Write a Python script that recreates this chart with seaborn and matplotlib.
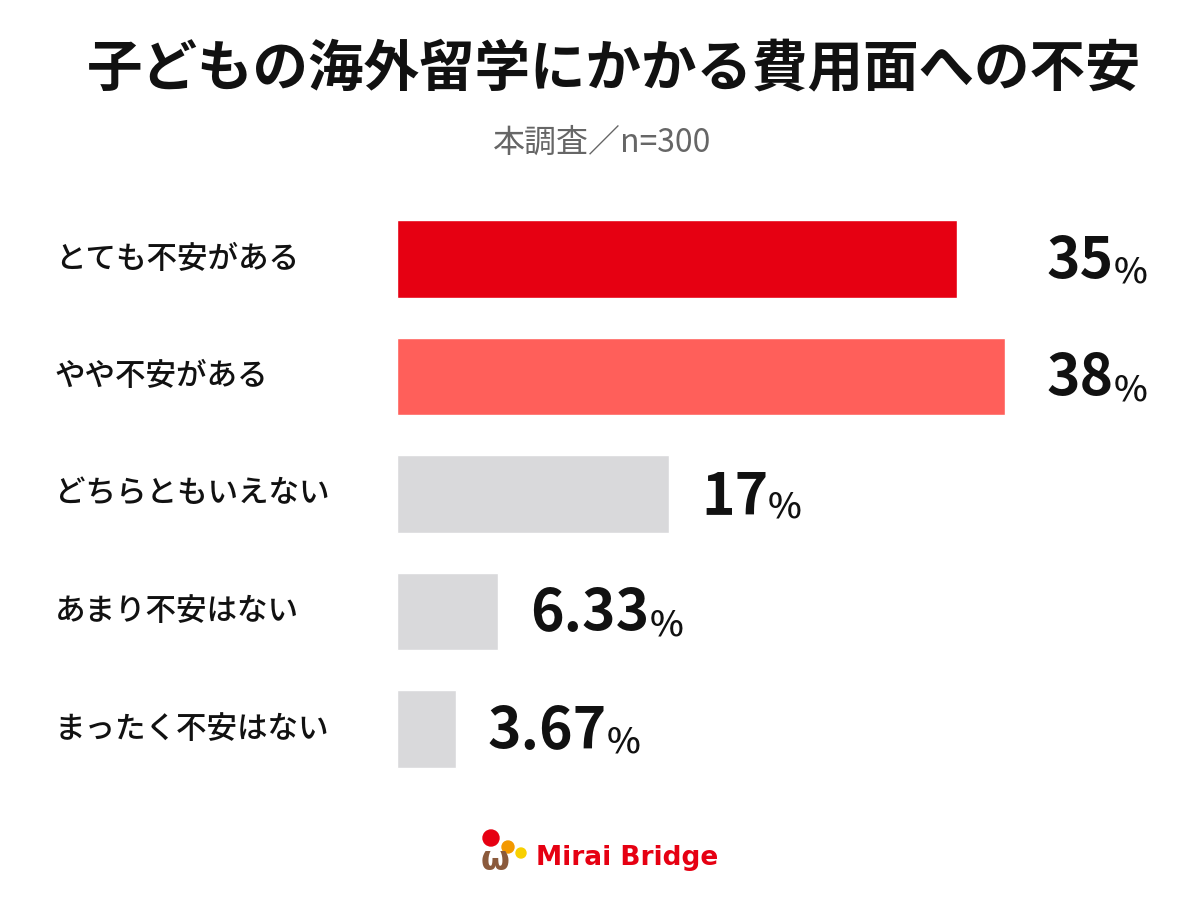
import pandas as pd
import numpy as np
import matplotlib.pyplot as plt
import seaborn as sns

# data
categories = ['とても不安がある', 'やや不安がある', 'どちらともいえない', 'あまり不安はない', 'まったく不安はない']
values = [35, 38, 17, 6.33, 3.67]
value_labels = ['35', '38', '17', '6.33', '3.67']
bar_colors = ['#E60012', '#FF5F5A', '#D9D9DB', '#D9D9DB', '#D9D9DB']

title = '子どもの海外留学にかかる費用面への不安'
subtitle = '本調査／n=300'
brand = 'Mirai Bridge'

sns.set_style('white')
plt.rcParams['font.family'] = ['Noto Sans CJK JP', 'DejaVu Sans']

df = pd.DataFrame({'cat': categories, 'val': values})

fig = plt.figure(figsize=(12, 9), dpi=100)
fig.patch.set_facecolor('white')

# axes placed so the bar area starts at x=397px
ax = fig.add_axes([397 / 1200, 0.1247, 803 / 1200, 0.6528])
sns.barplot(data=df, x='val', y='cat', hue='cat', palette=bar_colors,
            legend=False, orient='h', width=0.66, saturation=1, ax=ax)
ax.set_xlim(0, 803 / 16)
ax.set_ylim(4.5, -0.5)
ax.set_xlabel('')
ax.set_ylabel('')
ax.set_xticks([])
ax.set_yticks([])
sns.despine(ax=ax, left=True, bottom=True)

num_font = ['Noto Sans CJK JP', 'DejaVu Sans']
for i, (v, lab) in enumerate(zip(values, value_labels)):
    # top two labels are lined up with each other
    if i < 2:
        x0, off = max(values[:2]), 30
    else:
        x0, off = v, 23
    t = ax.annotate(lab, xy=(x0, i), xytext=(off, -2), textcoords='offset points',
                    ha='left', va='center', fontsize=41, fontweight='bold',
                    family=num_font, color='#111111')
    ax.annotate('%', xy=(1, 0.14), xycoords=t, xytext=(0, 0), textcoords='offset points',
                ha='left', va='baseline', fontsize=26, fontweight='medium',
                family=num_font, color='#111111')

# category names at the left edge
for i, c in enumerate(categories):
    ax.annotate(c, xy=(0, i), xycoords=('figure fraction', 'data'),
                xytext=(55 * 0.72, 0), textcoords='offset points',
                ha='left', va='center', fontsize=22, fontweight='medium', color='#111111')

fig.text(0.512, 1 - 70 / 900, title, ha='center', va='center',
         fontsize=40, fontweight='bold', color='#111111')
fig.text(0.502, 1 - 143 / 900, subtitle, ha='center', va='center',
         fontsize=23, color='#666666')

# logo: three dots + brown mark + name
fig.text(0.4125, 1 - 860 / 900, 'ω', ha='center', va='center', fontsize=24,
         fontweight='bold', color='#8B5A3C', family=['DejaVu Sans'])
for (px, py, col, r) in [(491, 838, '#E60012', 8), (508, 847, '#F39800', 6), (521, 853, '#F8D000', 5)]:
    fig.patches.append(plt.Circle((px / 100, (900 - py) / 100), r / 100,
                                  transform=fig.dpi_scale_trans, color=col, figure=fig))
fig.text(536 / 1200, 1 - 858 / 900, brand, ha='left', va='center', fontsize=19,
         fontweight='bold', color='#E60012', family=['DejaVu Sans'])

fig.savefig('out.png', dpi=100, facecolor='white')
